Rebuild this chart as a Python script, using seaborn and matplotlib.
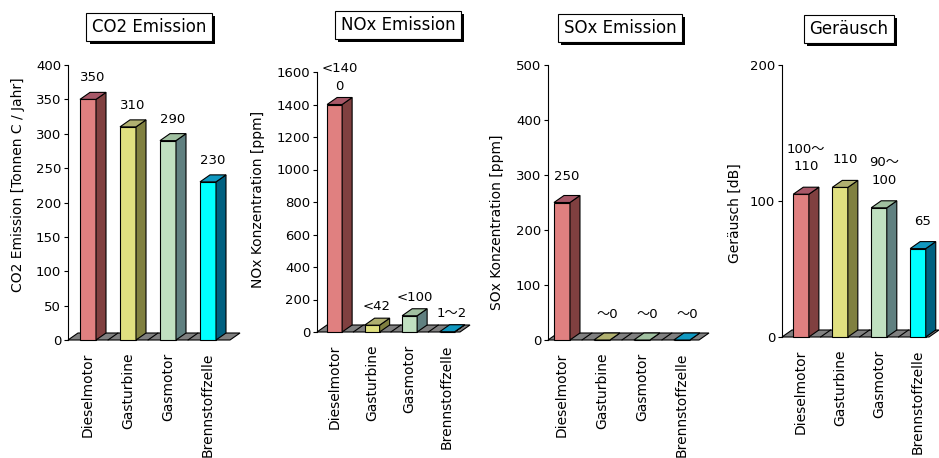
import matplotlib
matplotlib.use("Agg")
import matplotlib.pyplot as plt
import matplotlib.patheffects as pe
from matplotlib.patches import Polygon
import seaborn as sns
import pandas as pd

# ---------------- data ----------------
categories = ["Dieselmotor", "Gasturbine", "Gasmotor", "Brennstoffzelle"]
co2_values = [350, 310, 290, 230]
co2_labels = ["350", "310", "290", "230"]
nox_values = [1400, 42, 100, 1.5]
nox_labels = ["<140\n0", "<42", "<100", "1〜2"]
sox_values = [250, 0, 0, 0]
sox_labels = ["250", "〜0", "〜0", "〜0"]
noise_values = [105, 110, 95, 65]
noise_labels = ["100〜\n110", "110", "90〜\n100", "65"]

titles = ["CO2 Emission", "NOx Emission", "SOx Emission", "Geräusch"]
ylabels = ["CO2 Emission [Tonnen C / Jahr]", "NOx Konzentration [ppm]",
           "SOx Konzentration [ppm]", "Geräusch [dB]"]
yticks = [list(range(0, 401, 50)), list(range(0, 1601, 200)),
          list(range(0, 501, 100)), [0, 100, 200]]

# ---------------- style ----------------
front_colors = ["#E08080", "#E0E080", "#C0E0C0", "#00FFFF"]
side_colors = ["#804040", "#808040", "#608080", "#006080"]
top_colors = ["#A85868", "#B0B070", "#A0C0A0", "#1098C0"]

sns.set_theme(style="white")
plt.rcParams["font.family"] = ["DejaVu Sans", "Noto Sans CJK JP"]

W, H = 939, 458
fig = plt.figure(figsize=(W / 100, H / 100), dpi=100)
fig.patch.set_facecolor("white")

# layout (pixels): left, bottom(y from top), width, height
px_rects = [(68, 340, 172, 275), (317, 332, 153, 260),
            (548, 340, 161, 275), (782, 337, 157, 272)]
xlims = [(-0.5, 3.8), (-0.47, 3.61), (-0.35, 3.68), (-0.49, 3.54)]
label_offsets_px = [15, 12, 19, 21]
ylabel_coords = [(-0.29, 0.564), (-0.386, 0.508), (-0.317, 0.429), (-0.299, 0.456)]
title_pos = [(149, 27), (398, 25), (620, 28), (849, 29)]

DX_PX, DY_PX = 10, 7

panels = [(co2_values, co2_labels), (nox_values, nox_labels),
          (sox_values, sox_labels), (noise_values, noise_labels)]

for i, ((vals, labs), (l, b, w, h)) in enumerate(zip(panels, px_rects)):
    ax = fig.add_axes([l / W, (H - b) / H, w / W, h / H])
    ax.set_facecolor("white")
    df = pd.DataFrame({"cat": categories, "val": vals})
    sns.barplot(data=df, x="cat", y="val", hue="cat", palette=front_colors,
                width=0.4, edgecolor="black", linewidth=0.8, saturation=1,
                legend=False, ax=ax, zorder=3)
    ymax = yticks[i][-1]
    ax.set_xlim(*xlims[i])
    ax.set_ylim(0, ymax)
    ax.set_yticks(yticks[i])
    xr = xlims[i][1] - xlims[i][0]
    dx = DX_PX * xr / w
    dy = DY_PX * ymax / h

    # floor
    x0f, x1f = xlims[i]
    floor = Polygon([(x0f, 0), (x1f - dx, 0), (x1f, dy), (x0f + dx, dy)],
                    closed=True, facecolor="#808080", edgecolor="black",
                    linewidth=0.8, zorder=1, clip_on=False)
    ax.add_patch(floor)
    for k in range(len(categories) - 1):
        xm = k + 0.5
        ax.plot([xm, xm + dx], [0, dy], color="black", lw=0.8, zorder=2,
                clip_on=False)

    # 3D faces
    bars = sorted([p for p in ax.patches if p is not floor], key=lambda p: p.get_x())
    for j, p in enumerate(bars):
        bx0 = p.get_x()
        bx1 = bx0 + p.get_width()
        bh = p.get_height()
        side = Polygon([(bx1, 0), (bx1 + dx, dy), (bx1 + dx, bh + dy), (bx1, bh)],
                       closed=True, facecolor=side_colors[j], edgecolor="black",
                       linewidth=0.8, zorder=3, clip_on=False)
        top = Polygon([(bx0, bh), (bx0 + dx, bh + dy), (bx1 + dx, bh + dy), (bx1, bh)],
                      closed=True, facecolor=top_colors[j], edgecolor="black",
                      linewidth=0.8, zorder=3, clip_on=False)
        ax.add_patch(side)
        ax.add_patch(top)
        p.set_clip_on(False)
        ax.annotate(labs[j], xy=((bx0 + bx1) / 2, bh), xycoords="data",
                    xytext=(DX_PX / 2 * 0.72, label_offsets_px[i] * 0.72),
                    textcoords="offset points", ha="center", va="bottom",
                    fontsize=9.5, color="black", linespacing=1.45, zorder=5)

    # axes styling
    for s in ["top", "right", "bottom"]:
        ax.spines[s].set_visible(False)
    ax.spines["left"].set_color("black")
    ax.spines["left"].set_linewidth(0.8)
    ax.spines["left"].set_zorder(4)
    ax.tick_params(axis="y", direction="out", length=3, width=0.8,
                   labelsize=9.5, pad=2, colors="black", left=True)
    ax.tick_params(axis="x", length=0, labelsize=10, pad=9, labelrotation=90,
                   colors="black")
    ax.set_xlabel("")
    ax.set_ylabel(ylabels[i], fontsize=10, color="black", va="center", ha="center")
    ax.yaxis.set_label_coords(*ylabel_coords[i])
    ax.grid(False)

    # boxed title with shadow
    tx, ty = title_pos[i]
    t = fig.text(tx / W, 1 - ty / H, titles[i], ha="center", va="center",
                 fontsize=12, color="black",
                 bbox=dict(boxstyle="square,pad=0.32", facecolor="white",
                           edgecolor="black", linewidth=0.8))
    t.get_bbox_patch().set_path_effects([
        pe.SimplePatchShadow(offset=(2.2, -2.2), shadow_rgbFace="black", alpha=1.0),
        pe.Normal()])

fig.savefig("out.png", dpi=100, facecolor="white")
